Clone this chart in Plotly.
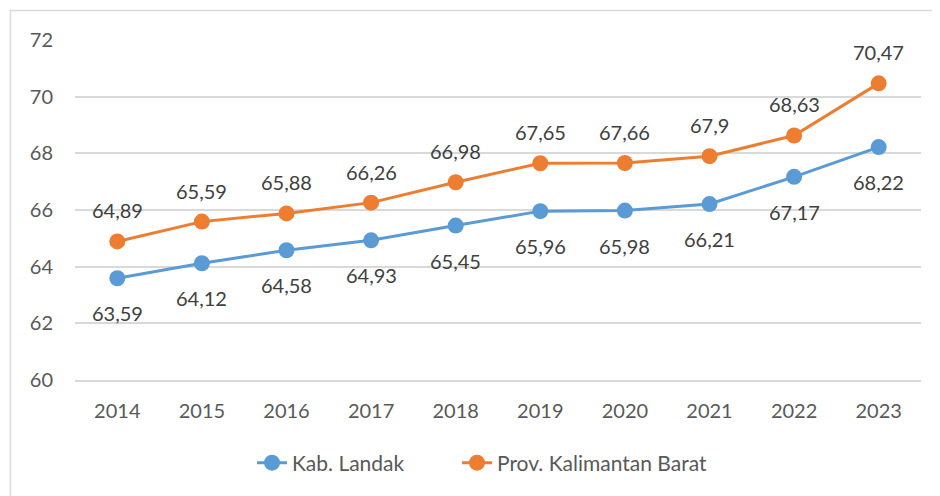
import plotly.graph_objects as go

years = ["2014", "2015", "2016", "2017", "2018", "2019", "2020", "2021", "2022", "2023"]
landak = [63.59, 64.12, 64.58, 64.93, 65.45, 65.96, 65.98, 66.21, 67.17, 68.22]
kalbar = [64.89, 65.59, 65.88, 66.26, 66.98, 67.65, 67.66, 67.9, 68.63, 70.47]
y_ticks = [60, 62, 64, 66, 68, 70, 72]

BLUE = "#5B9BD5"
ORANGE = "#ED7D31"
FONT = "Lato"


def fmt(v):
    s = f"{v:.2f}".rstrip("0").rstrip(".")
    return s.replace(".", ",")


fig = go.Figure()
fig.add_trace(go.Scatter(x=years, y=landak, name="Kab. Landak", mode="lines+markers", legend="legend",
                         line=dict(color=BLUE, width=3), marker=dict(color=BLUE, size=16)))
fig.add_trace(go.Scatter(x=years, y=kalbar, name="Prov. Kalimantan Barat", mode="lines+markers",
                         legend="legend2",
                         line=dict(color=ORANGE, width=3), marker=dict(color=ORANGE, size=16)))

annotations = []
for i, v in enumerate(landak):
    annotations.append(dict(x=i, y=v, text=fmt(v), showarrow=False, yshift=-35,
                            font=dict(family=FONT, size=20, color="#404040")))
for i, v in enumerate(kalbar):
    annotations.append(dict(x=i, y=v, text=fmt(v), showarrow=False, yshift=31,
                            font=dict(family=FONT, size=20, color="#404040")))

# page has an 8px body margin; figure is placed at (8, 8)
OFF = 8
W, H = 940 - OFF, 496 - OFF
L, T = 75 - OFF, 40 - OFF
pw, ph = 846, 340
R, B = W - L - pw, H - T - ph

leg_y = (ph - (463 - OFF - T)) / ph
leg_font = dict(family=FONT, size=21, color="#595959")

fig.update_layout(
    width=W, height=H,
    margin=dict(l=L, r=R, t=T, b=B, autoexpand=False),
    paper_bgcolor="white", plot_bgcolor="white",
    font=dict(family=FONT, size=20, color="#595959"),
    annotations=annotations,
    showlegend=True,
    legend=dict(orientation="h", x=(252 - OFF - L) / pw, xanchor="left",
                y=leg_y, yanchor="middle", font=leg_font),
    legend2=dict(orientation="h", x=(457 - OFF - L) / pw, xanchor="left",
                 y=leg_y, yanchor="middle", font=leg_font),
    shapes=[dict(type="rect", xref="paper", yref="paper",
                 x0=(10.5 - OFF - L) / pw, x1=(W + 20 - L) / pw,
                 y0=-(B + 20) / ph, y1=1 + (T - (10.5 - OFF)) / ph,
                 line=dict(color="#D9D9D9", width=1.5), fillcolor="rgba(0,0,0,0)", layer="below")],
)
fig.update_xaxes(type="category", range=[-0.5, len(years) - 0.5], automargin=False,
                 showgrid=False, showline=True, linecolor="#D9D9D9", linewidth=1.5,
                 ticks="outside", ticklen=12, tickcolor="rgba(0,0,0,0)",
                 tickfont=dict(family=FONT, size=20, color="#595959"))
fig.update_yaxes(range=[60, 72], tickvals=y_ticks, automargin=False,
                 showgrid=True, gridcolor="#D9D9D9", gridwidth=1.5,
                 zeroline=False, ticks="outside", ticklen=17, tickcolor="rgba(0,0,0,0)",
                 tickfont=dict(family=FONT, size=20, color="#595959"))

fig.write_html("out.html")
